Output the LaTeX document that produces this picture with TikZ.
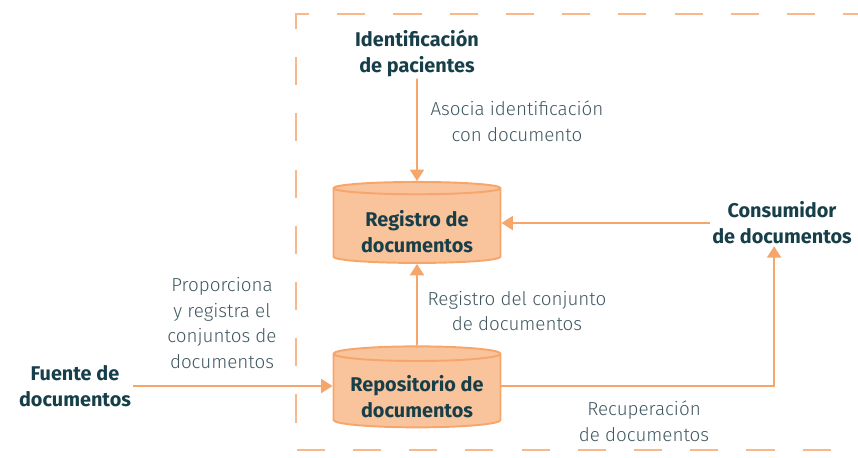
\documentclass[tikz,border=0pt]{standalone}
\usepackage{fontspec}
\setmainfont{Fira Sans}
\newfontfamily\lightfont{Fira Sans}[UprightFont=* Light]
\usepackage{xcolor}
\usetikzlibrary{shapes.geometric,arrows.meta}
\definecolor{lineorange}{HTML}{F7A66B}
\definecolor{fillorange}{HTML}{F9C39B}
\definecolor{darkteal}{HTML}{173F49}
\definecolor{grayteal}{HTML}{3F5860}

\begin{document}
\begin{tikzpicture}[x=0.02cm, y=-0.02cm,
  store/.style={cylinder, shape border rotate=90, aspect=0.11, draw=lineorange,
    line width=1.1pt, fill=fillorange, minimum width=3.34cm, minimum height=1.62cm,
    align=center, font=\bfseries\fontsize{11.3}{14.7}\selectfont, text=darkteal,
    inner sep=0pt, text height=30.5pt},
  actor/.style={align=center, font=\bfseries\fontsize{11.3}{14.7}\selectfont, text=darkteal, inner sep=1pt},
  note/.style={align=center, font=\lightfont\fontsize{10.7}{14.7}\selectfont, text=grayteal},
  flow/.style={draw=lineorange, line width=1.1pt, -{Triangle[length=6.5pt,width=8pt]}},
  frame/.style={draw=lineorange!80, line width=1pt, dash pattern=on 16pt off 16pt}]
  \useasboundingbox (0,0) rectangle (858,457);
  % System boundary
  \draw[frame] (296,29) -- (296,14) -- (858,14);
  \draw[frame, dash phase=16pt] (296,29) -- (296,450) -- (858,450);
  % Stores
  \node[store] (reg) at (417,226) {Registro de\\documentos};
  \node[store] (rep) at (417,391) {Repositorio de\\documentos};
  % Actors
  \node[actor] (idp) at (417,53) {Identificación\\de pacientes};
  \node[actor] (con) at (782,223) {Consumidor\\de documentos};
  \node[actor] (fue) at (75,386) {Fuente de\\documentos};
  % Flows
  \draw[flow] (idp) -- (reg.north);
  \draw[flow] (con) -- (con -| reg.east);
  \draw[flow] (rep.north) -- (reg.south);
  \draw[flow] (fue) -- (fue -| rep.west);
  \draw[flow] (rep.east |- fue) -| ([xshift=-4.5pt]con.south);
  % Flow labels
  \node[note] (asoc) at (517,121) {Asocia identificación\\con documento};
  \node[note] (regc) at (517,311) {Registro del conjunto\\de documentos};
  \node[note] (prop) at (222,323) {Proporciona\\y registra el\\conjuntos de\\documentos};
  \node[note] (recu) at (644,421) {Recuperación\\de documentos};
\end{tikzpicture}
\end{document}
